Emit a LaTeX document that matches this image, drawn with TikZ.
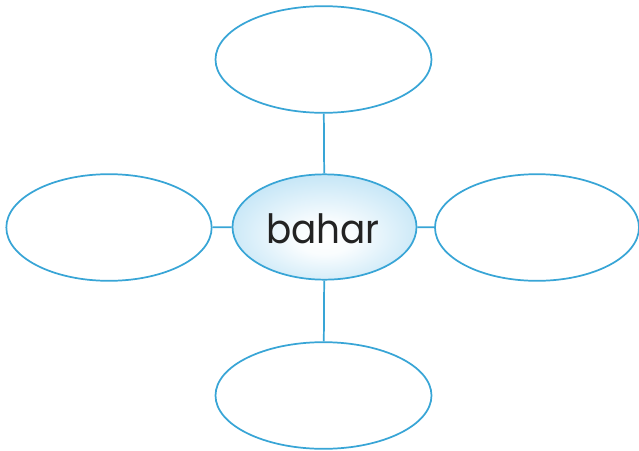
\documentclass[tikz,border=0pt]{standalone}
\usepackage{fontspec}
\newfontfamily\bubblefont{Poppins}
\usetikzlibrary{shapes.geometric}
\definecolor{bubbleline}{RGB}{56,165,214}
\definecolor{bubblefill}{RGB}{140,205,238}
\definecolor{bubbletext}{RGB}{35,35,35}
\pgfdeclareradialshading{bubbleshade}{\pgfpoint{0bp}{-6bp}}{color(0bp)=(white); color(8bp)=(white!95!bubblefill); color(50bp)=(bubblefill)}
\tikzset{every picture/.style={line width=0.75pt}}
\tikzset{bubble/.style={ellipse, draw=bubbleline, line width=1.3pt, inner sep=0pt, fill=white}}

\begin{document}
\begin{tikzpicture}[x=0.75pt,y=0.75pt,yscale=-1,xscale=1]
\useasboundingbox (0,0) rectangle (639,450);

% Center bubble
\node [bubble, shading=bubbleshade, minimum width=138pt, minimum height=79pt] (bahar) at (324.5,227) {};
\node [font=\bubblefont\fontsize{28}{28}\selectfont, text=bubbletext, yscale=1.08] (word) at (323,229) {bahar};

% Outer bubbles
\node [bubble, minimum width=162pt, minimum height=80pt] (top) at (323.5,59.5) {};
\node [bubble, minimum width=154pt, minimum height=80pt] (left) at (109,227.5) {};
\node [bubble, minimum width=153pt, minimum height=80pt] (right) at (537,227.5) {};
\node [bubble, minimum width=162pt, minimum height=80pt] (bottom) at (323.5,395.5) {};

% Connectors
\draw [bubbleline, line width=1.3pt] (bahar) -- (top);
\draw [bubbleline, line width=1.3pt] (bahar) -- (bottom);
\draw [bubbleline, line width=1.3pt] (bahar) -- (left);
\draw [bubbleline, line width=1.3pt] (bahar) -- (right);

\end{tikzpicture}
\end{document}
